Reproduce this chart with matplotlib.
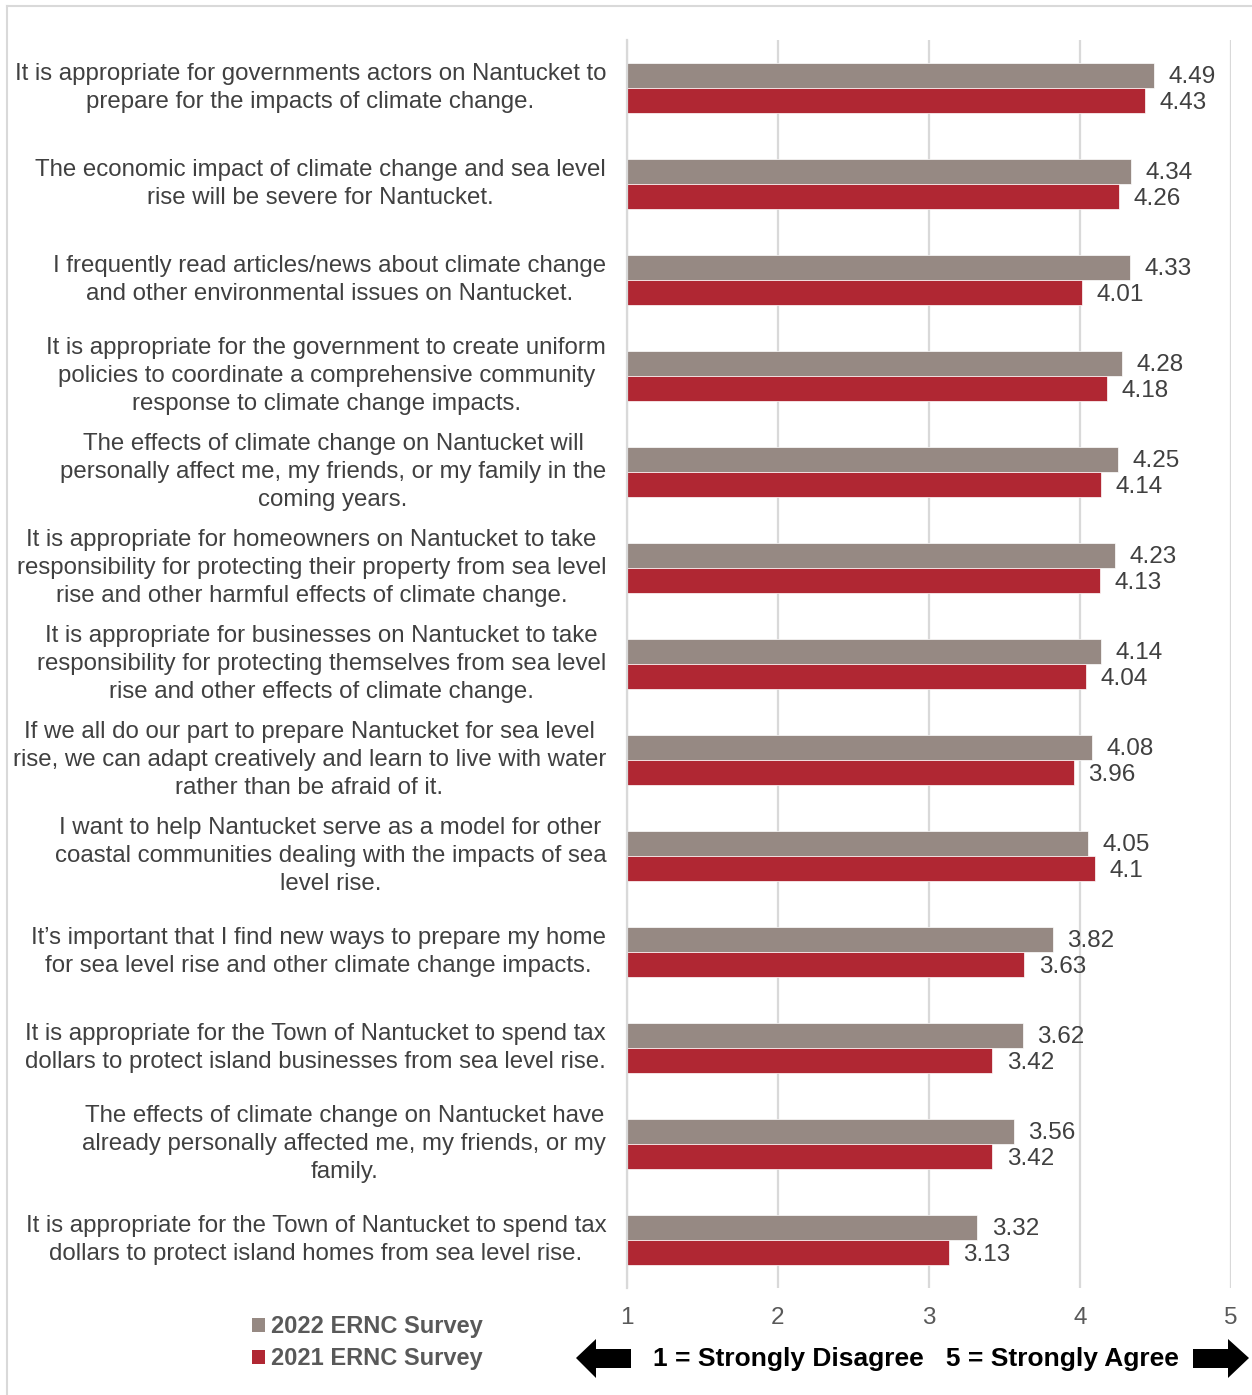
import numpy as np
import matplotlib
matplotlib.use("Agg")
import matplotlib.pyplot as plt
import matplotlib.transforms as mtransforms
from matplotlib.patches import Polygon, Patch
from matplotlib.lines import Line2D

plt.rcParams['font.family'] = ['Liberation Sans', 'DejaVu Sans']

statements = [
    "It is appropriate for governments actors on Nantucket to\nprepare for the impacts of climate change.",
    "The economic impact of climate change and sea level\nrise will be severe for Nantucket.",
    "I frequently read articles/news about climate change\nand other environmental issues on Nantucket.",
    "It is appropriate for the government to create uniform\npolicies to coordinate a comprehensive community\nresponse to climate change impacts.",
    "The effects of climate change on Nantucket will\npersonally affect me, my friends, or my family in the\ncoming years.",
    "It is appropriate for homeowners on Nantucket to take\nresponsibility for protecting their property from sea level\nrise and other harmful effects of climate change.",
    "It is appropriate for businesses on Nantucket to take\nresponsibility for protecting themselves from sea level\nrise and other effects of climate change.",
    "If we all do our part to prepare Nantucket for sea level\nrise, we can adapt creatively and learn to live with water\nrather than be afraid of it.",
    "I want to help Nantucket serve as a model for other\ncoastal communities dealing with the impacts of sea\nlevel rise.",
    "It\u2019s important that I find new ways to prepare my home\nfor sea level rise and other climate change impacts.",
    "It is appropriate for the Town of Nantucket to spend tax\ndollars to protect island businesses from sea level rise.",
    "The effects of climate change on Nantucket have\nalready personally affected me, my friends, or my\nfamily.",
    "It is appropriate for the Town of Nantucket to spend tax\ndollars to protect island homes from sea level rise.",
]
survey_2022 = [4.49, 4.34, 4.33, 4.28, 4.25, 4.23, 4.14, 4.08, 4.05, 3.82, 3.62, 3.56, 3.32]
survey_2021 = [4.43, 4.26, 4.01, 4.18, 4.14, 4.13, 4.04, 3.96, 4.1, 3.63, 3.42, 3.42, 3.13]
series_names = ["2022 ERNC Survey", "2021 ERNC Survey"]
scale_ticks = [1, 2, 3, 4, 5]
scale_note = "1 = Strongly Disagree   5 = Strongly Agree"

GREY = "#968983"
RED = "#B02733"
GRID = "#d9d9d9"
TEXT = "#404040"

W, H = 1252, 1395
fig = plt.figure(figsize=(W / 100, H / 100), dpi=100)


def fx(x, y):
    # pixel position -> figure fraction
    return x / W, 1 - y / H


ax = fig.add_axes([627 / W, 1 - 1288 / H, (1231 - 627) / W, (1288 - 40) / H])

rows = np.arange(len(statements))
h = 0.26
v22 = np.array(survey_2022)
v21 = np.array(survey_2021)
b22 = ax.barh(rows - h / 2, v22 - 1, left=1, height=h, color=GREY,
              edgecolor="white", linewidth=0.5)
b21 = ax.barh(rows + h / 2, v21 - 1, left=1, height=h, color=RED,
              edgecolor="white", linewidth=0.5)

lab22 = ax.bar_label(b22, labels=[f"{v:g}" for v in v22], padding=10.5,
                     fontsize=17.5, color=TEXT)
lab21 = ax.bar_label(b21, labels=[f"{v:g}" for v in v21], padding=10.5,
                     fontsize=17.5, color=TEXT)
# value labels sit a touch lower than the bar centres
for t in lab22:
    t.set_y(t.get_position()[1] - 1.2)
for t in lab21:
    t.set_y(t.get_position()[1] - 1.5)

ax.set_xlim(1, 5)
ax.set_ylim(len(statements) - 0.5, -0.5)
ax.set_xticks(scale_ticks)
ax.set_yticks(rows)
ax.set_yticklabels(statements)
shift = mtransforms.ScaledTranslation(0, -2 / 100, fig.dpi_scale_trans)
for lbl in ax.get_yticklabels():
    lbl.set_multialignment("center")
    lbl.set_verticalalignment("center")
    lbl.set_linespacing(1.37)
    lbl.set_transform(lbl.get_transform() + shift)

ax.tick_params(axis="x", length=0, pad=14, labelsize=17.5, labelcolor="#595959")
ax.tick_params(axis="y", length=0, pad=15, labelsize=17.3, labelcolor=TEXT)

ax.xaxis.grid(True, color=GRID, linewidth=1.6)
ax.set_axisbelow(True)
for side in ["top", "right", "bottom"]:
    ax.spines[side].set_visible(False)
ax.spines["left"].set_color(GRID)
ax.spines["left"].set_linewidth(1.6)

# legend in the lower left corner
handles = [Patch(facecolor=GREY), Patch(facecolor=RED)]
fig.legend(handles, series_names, loc="upper left", bbox_to_anchor=fx(252, 1315),
           frameon=False, borderpad=0, borderaxespad=0, handlelength=0.55,
           handleheight=0.55, handletextpad=0.25, labelspacing=0.4,
           prop={"size": 17, "weight": "bold"}, labelcolor="#595959")

# scale note with arrows
fig.text(*fx(916, 1359), scale_note, ha="center", va="center", fontsize=19,
         weight="bold", color="black",
         family=["Liberation Sans Narrow", "Liberation Sans"])

left_arrow = [(576, 1358), (596, 1339), (596, 1349), (631, 1349),
              (631, 1368), (596, 1368), (596, 1378)]
right_arrow = [(1249, 1358), (1228, 1339), (1228, 1349), (1193, 1349),
               (1193, 1368), (1228, 1368), (1228, 1378)]
for pts in (left_arrow, right_arrow):
    fig.add_artist(Polygon([fx(x, y) for x, y in pts], closed=True,
                           facecolor="black", edgecolor="none",
                           transform=fig.transFigure))

# outer frame
fig.add_artist(Line2D([7 / W, 1], [1 - 6 / H, 1 - 6 / H], color=GRID,
                      linewidth=1.5, transform=fig.transFigure))
fig.add_artist(Line2D([7 / W, 7 / W], [0, 1 - 6 / H], color=GRID,
                      linewidth=1.5, transform=fig.transFigure))

fig.savefig("out.png", dpi=100, facecolor="white")
